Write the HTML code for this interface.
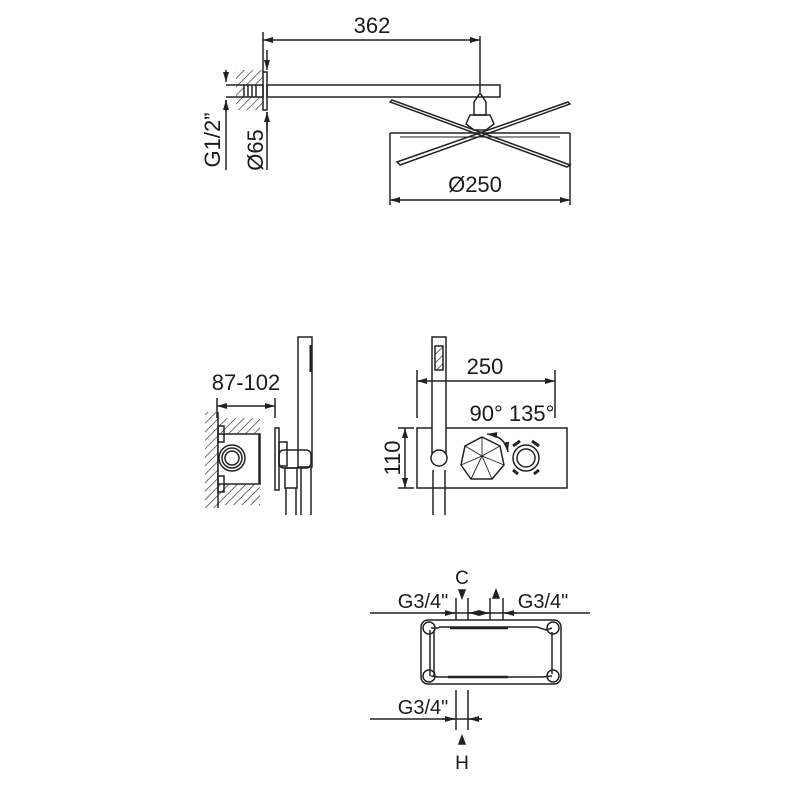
<!DOCTYPE html>
<html><head><meta charset="utf-8"><style>
html,body{margin:0;padding:0;background:#fff;}
svg{display:block;}
text{font-family:"Liberation Sans","DejaVu Sans",sans-serif;fill:#1a1a1a;}
</style></head><body>
<svg width="800" height="800" viewBox="0 0 800 800" xmlns="http://www.w3.org/2000/svg">
<defs>
<pattern id="h" width="6" height="6" patternUnits="userSpaceOnUse" patternTransform="rotate(45)">
<line x1="0" y1="0" x2="0" y2="6" stroke="#222" stroke-width="1.3"/></pattern>
<marker id="a" viewBox="0 0 10 6" refX="10" refY="3" markerWidth="10" markerHeight="6" orient="auto-start-reverse" markerUnits="userSpaceOnUse"><path d="M0,0L10,3L0,6z" fill="#222"/></marker>
</defs>
<g stroke="#222" stroke-width="1.5" fill="none">
<!-- TOP -->
<line x1="263" y1="40" x2="480" y2="40" marker-start="url(#a)" marker-end="url(#a)"/>
<line x1="263" y1="32" x2="263" y2="72"/>
<line x1="480" y1="36" x2="480" y2="92"/>
<rect x="236" y="70" width="27" height="40" fill="url(#h)" stroke="none"/>
<rect x="244" y="85" width="19" height="12" fill="#fff"/>
<line x1="248" y1="85" x2="248" y2="97"/><line x1="252" y1="85" x2="252" y2="97"/><line x1="256" y1="85" x2="256" y2="97"/>
<line x1="226" y1="85" x2="244" y2="85"/><line x1="226" y1="97" x2="244" y2="97"/>
<rect x="263" y="72" width="4" height="38"/>
<rect x="267" y="85" width="233" height="12"/>
<line x1="226" y1="70" x2="226" y2="82" marker-end="url(#a)"/>
<line x1="226" y1="112" x2="226" y2="100" marker-end="url(#a)"/>
<line x1="226" y1="100" x2="226" y2="170"/>
<line x1="267" y1="50" x2="267" y2="70" marker-end="url(#a)"/>
<line x1="267" y1="132" x2="267" y2="112" marker-end="url(#a)"/>
<line x1="267" y1="112" x2="267" y2="170"/>
<path d="M474,102 L480,93 L486,102 L486,115 L474,115 Z"/>
<path d="M470,115 L490,115 L494,124 L486,130 L474,130 L466,124 Z"/>
<path d="M390,102 L392,100 L570,165 L567,167 Z"/>
<path d="M400,165 L397,162 L568,102 L570,104 Z"/>
<line x1="390" y1="133" x2="570" y2="133"/>
<line x1="400" y1="137" x2="560" y2="137" stroke-width="1"/>
<line x1="390" y1="133" x2="390" y2="205"/>
<line x1="570" y1="133" x2="570" y2="205"/>
<line x1="390" y1="200" x2="570" y2="200" marker-start="url(#a)" marker-end="url(#a)"/>
<!-- MIDDLE LEFT -->
<rect x="205" y="412" width="13" height="96" fill="url(#h)" stroke="none"/>
<line x1="218" y1="412" x2="218" y2="508"/>
<rect x="218" y="418" width="42" height="87" fill="url(#h)" stroke="none"/>
<rect x="218" y="434" width="42" height="50" fill="#fff"/>
<line x1="217" y1="398" x2="217" y2="418"/><line x1="275" y1="398" x2="275" y2="418"/>
<line x1="217" y1="406" x2="275" y2="406" marker-start="url(#a)" marker-end="url(#a)"/>
<rect x="218" y="426" width="6" height="16"/><rect x="218" y="476" width="6" height="16"/>
<line x1="259" y1="434" x2="259" y2="484"/>
<circle cx="232" cy="458" r="13"/><circle cx="232" cy="458" r="10"/><circle cx="232" cy="458" r="7"/>
<rect x="275" y="428" width="4" height="62"/>
<rect x="279" y="442" width="8" height="24"/>
<rect x="279" y="450" width="32" height="18" rx="5"/>
<rect x="298" y="337" width="14" height="130"/>
<line x1="311" y1="345" x2="311" y2="372" stroke-width="3"/>
<rect x="285" y="468" width="12" height="20"/>
<line x1="286" y1="488" x2="286" y2="515"/><line x1="296" y1="488" x2="296" y2="515"/>
<line x1="301" y1="467" x2="301" y2="515"/><line x1="311" y1="467" x2="311" y2="515"/>
<!-- MIDDLE RIGHT -->
<rect x="417" y="428" width="150" height="60"/>
<rect x="432" y="337" width="14" height="120" fill="#fff"/>
<rect x="435" y="346" width="8" height="24" fill="url(#h)"/>
<circle cx="439" cy="458" r="8" fill="#fff"/>
<line x1="433" y1="470" x2="433" y2="515"/><line x1="445" y1="470" x2="445" y2="515"/>
<line x1="417" y1="370" x2="417" y2="418"/><line x1="555" y1="370" x2="555" y2="418"/>
<line x1="417" y1="381" x2="555" y2="381" marker-start="url(#a)" marker-end="url(#a)"/>
<line x1="398" y1="428" x2="414" y2="428"/><line x1="398" y1="488" x2="414" y2="488"/>
<line x1="405" y1="428" x2="405" y2="488" marker-start="url(#a)" marker-end="url(#a)"/>
<polygon points="482,437 500,446 504,465 492,479 471,479 461,465 465,446"/>
<path d="M465,446L482,456L500,446M461,465L482,456L504,465M471,479L482,456L492,479M482,437L482,456" stroke-width="0.9"/>
<circle cx="526" cy="458" r="13"/><circle cx="526" cy="458" r="9"/>
<path d="M487,434 Q505,436 508,452" marker-start="url(#a)" marker-end="url(#a)"/>
<path d="M513,446 L520,441 M539,446 L532,441 M513,470 L518,474 M539,470 L534,474" stroke-width="3"/>
<!-- BOTTOM -->
<line x1="370" y1="613" x2="590" y2="613"/>
<line x1="456" y1="598" x2="456" y2="620"/><line x1="468" y1="598" x2="468" y2="620"/>
<line x1="490" y1="598" x2="490" y2="620"/><line x1="503" y1="598" x2="503" y2="620"/>
<line x1="442" y1="613" x2="455" y2="613" marker-end="url(#a)"/>
<line x1="482" y1="613" x2="469" y2="613" marker-end="url(#a)"/>
<line x1="478" y1="613" x2="489" y2="613" marker-end="url(#a)"/>
<line x1="516" y1="613" x2="504" y2="613" marker-end="url(#a)"/>
<path d="M459,590 L465,590 L462,598 Z" fill="#222"/>
<path d="M493,598 L499,598 L496,590 Z" fill="#222"/>
<rect x="421" y="620" width="140" height="64" rx="7"/>
<path d="M431,628 L438,628 L440,627 L537,627 L546,630 L552,628 M431,676 L438,677 L542,677 L552,676 M430,630 L430,676 M434,630 L434,676 M552,632 L552,674"/>
<circle cx="429" cy="628" r="6"/><circle cx="553" cy="628" r="6"/><circle cx="429" cy="676" r="6"/><circle cx="553" cy="676" r="6"/>
<line x1="450" y1="628" x2="508" y2="628" stroke-width="2.5"/>
<line x1="448" y1="677" x2="508" y2="677" stroke-width="2.5"/>
<line x1="370" y1="719" x2="482" y2="719"/>
<line x1="456" y1="690" x2="456" y2="730"/><line x1="468" y1="690" x2="468" y2="730"/>
<line x1="442" y1="719" x2="455" y2="719" marker-end="url(#a)"/>
<line x1="482" y1="719" x2="469" y2="719" marker-end="url(#a)"/>
<path d="M459,744 L465,744 L462,736 Z" fill="#222"/>
</g>
<g font-size="22">
<text x="372" y="33" text-anchor="middle">362</text>
<text x="475" y="192" text-anchor="middle">Ø250</text>
<text transform="translate(220,140) rotate(-90)" text-anchor="middle">G1/2”</text>
<text transform="translate(263,150) rotate(-90)" text-anchor="middle">Ø65</text>
<text x="246" y="390" text-anchor="middle">87-102</text>
<text x="485" y="374" text-anchor="middle">250</text>
<text x="512" y="421" text-anchor="middle">90° 135°</text>
<text transform="translate(400,458) rotate(-90)" text-anchor="middle">110</text>
<text x="423" y="608" text-anchor="middle" font-size="20">G3/4"</text>
<text x="543" y="608" text-anchor="middle" font-size="20">G3/4"</text>
<text x="462" y="584" text-anchor="middle" font-size="19">C</text>
<text x="423" y="714" text-anchor="middle" font-size="20">G3/4"</text>
<text x="462" y="769" text-anchor="middle" font-size="19">H</text>
</g>
</svg>
</body></html>
